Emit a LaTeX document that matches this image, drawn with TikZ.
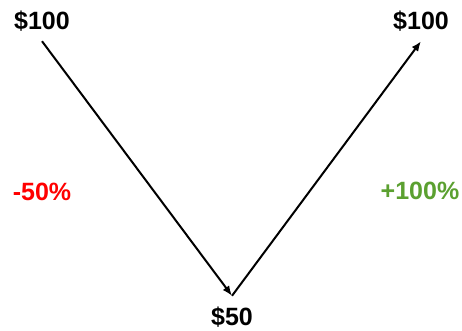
\documentclass[tikz,border=0pt]{standalone}
\usepackage{fontspec}
\setmainfont{Liberation Sans}
\usetikzlibrary{arrows.meta}
\definecolor{lossred}{RGB}{255,0,0}
\definecolor{gaingreen}{RGB}{91,160,48}

\begin{document}
\begin{tikzpicture}[x=1pt, y=1pt, font=\fontsize{25}{28}\selectfont\bfseries,
  price/.style={inner sep=0pt, outer sep=10pt},
  pct/.style={inner sep=0pt},
  move/.style={-{Latex[length=10pt, width=8pt]}, line width=2pt}]
  \useasboundingbox (0,0) rectangle (462,-330);
  \node[price] (start) at (42,-21) {\$100};
  \node[price, outer sep=11pt] (low) at (232,-317) {\$50};
  \node[price] (end) at (421,-21) {\$100};
  \node[pct, text=lossred] (loss) at (42,-192) {-50\%};
  \node[pct, text=gaingreen] (gain) at (420,-191) {+100\%};
  \draw[move] (start.south) -- (low.north);
  \draw[move] (low.north) -- (end.south);
\end{tikzpicture}
\end{document}
